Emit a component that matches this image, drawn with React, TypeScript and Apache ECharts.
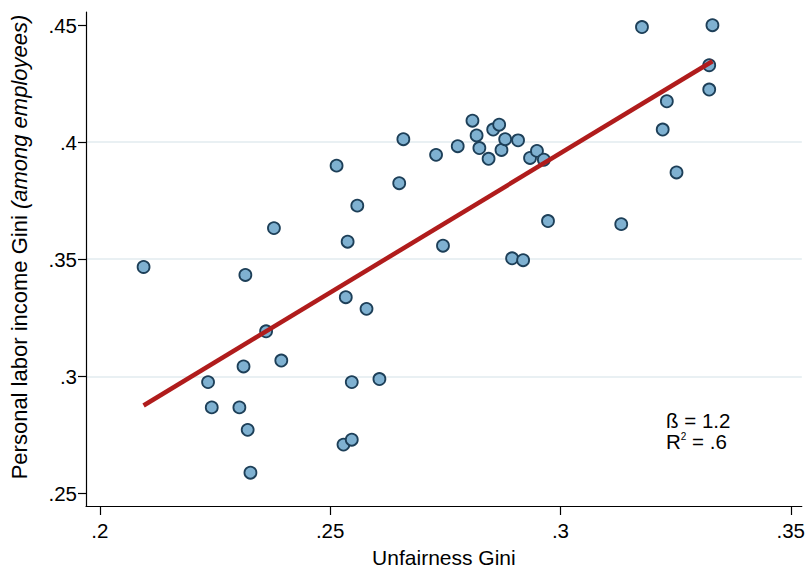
import React, { useEffect, useRef } from "react";
import * as echarts from "echarts";

const unfairnessGini = [
  0.2095, 0.2316, 0.2378, 0.2361, 0.2394, 0.2312, 0.2235, 0.2243, 0.2303, 0.2321,
  0.2327, 0.2514, 0.2559, 0.2538, 0.2534, 0.2579, 0.2547, 0.2607, 0.2529, 0.2547,
  0.2650, 0.2659, 0.2730, 0.2745, 0.2777, 0.2809, 0.2818, 0.2824, 0.2844, 0.2854,
  0.2867, 0.2872, 0.2880, 0.2908, 0.2934, 0.2949, 0.2964, 0.2973, 0.2895, 0.2919,
  0.3132, 0.3177, 0.3330, 0.3323, 0.3323, 0.3231, 0.3222, 0.3252,
];
const laborGini = [
  0.3467, 0.3433, 0.3633, 0.3192, 0.3067, 0.3042, 0.2975, 0.2867, 0.2867, 0.2771,
  0.2588, 0.3900, 0.3729, 0.3575, 0.3338, 0.3288, 0.2975, 0.2988, 0.2708, 0.2729,
  0.3825, 0.4013, 0.3946, 0.3558, 0.3983, 0.4092, 0.4029, 0.3975, 0.3929, 0.4054,
  0.4075, 0.3967, 0.4013, 0.4008, 0.3933, 0.3963, 0.3925, 0.3663, 0.3504, 0.3496,
  0.3650, 0.4492, 0.4500, 0.4329, 0.4225, 0.4175, 0.4054, 0.3871,
];
const fitX = [0.2095, 0.333];
const fitY = [0.2875, 0.4346];
const xTicks = [0.2, 0.25, 0.3, 0.35];
const yTicks = [0.25, 0.3, 0.35, 0.4, 0.45];
const xTitle = "Unfairness Gini";
const yTitleMain = "Personal labor income Gini ";
const yTitleItalic = "(among employees)";
const betaText = "ß = 1.2";
const r2Value = " = .6";

const FONT = "'Liberation Sans', Arial, Helvetica, sans-serif";
const fmt = (v: number) => String(+v.toFixed(4)).replace(/^0\./, ".");

export default function App() {
  const ref = useRef<HTMLDivElement>(null);
  useEffect(() => {
    if (!ref.current) return;
    const chart = echarts.init(ref.current, null, { renderer: "svg" });
    chart.setOption({
      animation: false,
      backgroundColor: "#ffffff",
      grid: { left: 86, right: 0, top: 12, bottom: 56, containLabel: false },
      xAxis: {
        type: "value",
        min: 0.197,
        max: 0.3524,
        splitNumber: 4,
        name: xTitle,
        nameLocation: "middle",
        nameGap: 41,
        nameTextStyle: { fontFamily: FONT, fontSize: 21, color: "#000" },
        axisLine: { show: true, onZero: false, lineStyle: { color: "#000", width: 1.2 } },
        axisTick: { show: true, length: 9, customValues: xTicks, lineStyle: { color: "#000", width: 1.2 } },
        axisLabel: {
          customValues: xTicks,
          formatter: fmt,
          fontFamily: FONT,
          fontSize: 20.5,
          color: "#000",
          margin: 14,
        },
        splitLine: { show: false },
      },
      yAxis: {
        type: "value",
        min: 0.24457,
        max: 0.45564,
        splitNumber: 5,
        name: `{a|${yTitleMain}}{b|${yTitleItalic}}`,
        nameLocation: "middle",
        nameRotate: 90,
        nameGap: 56,
        nameTextStyle: {
          fontFamily: FONT,
          fontSize: 22,
          color: "#000",
          padding: [0, 0, 0, 24],
          rich: {
            a: { fontFamily: FONT, fontSize: 22, color: "#000" },
            b: { fontFamily: FONT, fontSize: 22, color: "#000", fontStyle: "italic" },
          },
        },
        axisLine: { show: true, onZero: false, lineStyle: { color: "#000", width: 1.2 } },
        axisTick: { show: true, length: 8, customValues: yTicks, lineStyle: { color: "#000", width: 1.2 } },
        axisLabel: {
          customValues: yTicks,
          formatter: fmt,
          fontFamily: FONT,
          fontSize: 20.5,
          color: "#000",
          margin: 9,
        },
        splitLine: {
          show: true,
          showMinLine: false,
          showMaxLine: false,
          lineStyle: { color: "#e9f0f3", width: 2 },
        },
      },
      series: [
        {
          type: "scatter",
          data: unfairnessGini.map((x, i) => [x, laborGini[i]]),
          symbol: "circle",
          symbolSize: 12,
          itemStyle: { color: "#7fb1d1", borderColor: "#1d3f58", borderWidth: 1.8, opacity: 1 },
          z: 2,
        },
        {
          type: "line",
          data: fitX.map((x, i) => [x, fitY[i]]),
          symbol: "none",
          lineStyle: { color: "#b01c1c", width: 4.5 },
          z: 3,
        },
      ],
      graphic: [
        {
          type: "text",
          left: 666,
          top: 410,
          style: { text: betaText, fontFamily: FONT, fontSize: 20.5, fill: "#000" },
        },
        {
          type: "text",
          left: 666,
          top: 431,
          style: {
            text: `{r|R}{s|2}{r|${r2Value}}`,
            fontFamily: FONT,
            fontSize: 20.5,
            fill: "#000",
            rich: {
              r: { fontFamily: FONT, fontSize: 20.5, fill: "#000" },
              s: { fontFamily: FONT, fontSize: 10, fill: "#000", verticalAlign: "top", padding: [0, 0, 8, 0] },
            },
          },
        },
      ],
    });
    return () => chart.dispose();
  }, []);
  return (
    <div
      ref={ref}
      style={{ position: "fixed", left: 0, top: 0, width: 808, height: 573, background: "#fff" }}
    />
  );
}
